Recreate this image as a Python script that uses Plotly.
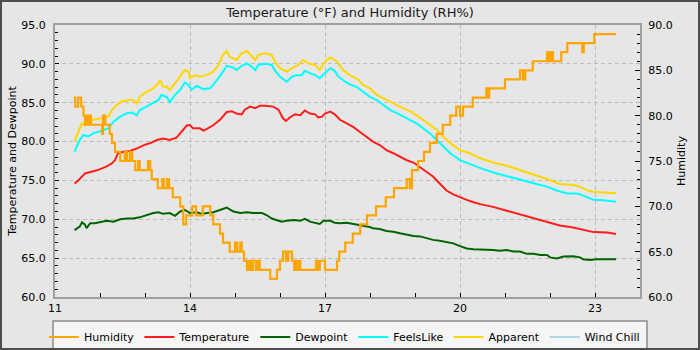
import plotly.graph_objects as go

DAY = "2024-06-01"

# Relative humidity (%), logged as step changes
humidity_times = [
    "11:25", "11:27", "11:31", "11:35", "11:38", "11:40", "11:42", "11:44", "11:46", "11:48",
    "12:03", "12:04", "12:07", "12:13", "12:16", "12:20", "12:27", "12:33", "12:36", "12:40",
    "12:43", "12:47", "12:51", "12:53", "13:04", "13:07", "13:09", "13:17", "13:23", "13:25",
    "13:29", "13:32", "13:37", "13:47", "13:51", "13:55", "14:03", "14:08", "14:17", "14:27",
    "14:31", "14:40", "14:44", "14:53", "15:00", "15:03", "15:07", "15:09", "15:12", "15:16",
    "15:19", "15:21", "15:24", "15:28", "15:31", "15:33", "15:47", "15:56", "16:00", "16:04",
    "16:08", "16:11", "16:16", "16:19", "16:21", "16:23", "16:24", "16:27", "16:48", "16:51",
    "16:53", "17:00", "17:16", "17:19", "17:27", "17:37", "17:47", "17:56", "18:08", "18:21",
    "18:32", "18:49", "18:53", "18:56", "19:04", "19:12", "19:20", "19:29", "19:37", "19:47",
    "19:55", "20:00", "20:04", "20:17", "20:35", "20:37", "20:39", "21:00", "21:20", "21:24",
    "21:27", "21:37", "21:56", "21:59", "22:01", "22:04", "22:15", "22:23", "22:43", "22:45",
    "22:59", "23:28",
]
humidity = [
    82, 81, 82, 81, 80, 79, 80, 79, 80, 79,
    78, 80, 79, 78, 77, 76, 75, 76, 75, 76,
    75, 74, 75, 74, 75, 74, 73, 72, 73, 72,
    73, 72, 71, 70, 68, 69, 70, 69, 70, 69,
    68, 67, 66, 65, 66, 65, 66, 65, 64, 63,
    64, 63, 64, 63, 64, 63, 62, 63, 64, 65,
    64, 65, 64, 63, 64, 63, 64, 63, 64, 63,
    64, 63, 64, 65, 66, 67, 68, 69, 70, 71,
    72, 73, 72, 74, 75, 76, 77, 78, 79, 80,
    81, 80, 81, 82, 83, 82, 83, 84, 85, 84,
    85, 86, 87, 86, 87, 86, 87, 88, 87, 88,
    89, 89,
]

# Air temperature (°F)
temp_times = [
    "11:26", "11:31", "11:40", "11:47", "11:56", "12:09", "12:16", "12:20", "12:24", "12:31",
    "12:40", "12:49", "13:00", "13:07", "13:16", "13:24", "13:33", "13:42", "13:49", "13:56",
    "14:00", "14:04", "14:13", "14:18", "14:22", "14:31", "14:40", "14:49", "14:56", "15:02",
    "15:09", "15:13", "15:20", "15:27", "15:33", "15:40", "15:51", "15:58", "16:04", "16:08",
    "16:13", "16:20", "16:27", "16:33", "16:40", "16:47", "16:51", "16:56", "17:00", "17:07",
    "17:13", "17:20", "17:29", "17:38", "17:47", "17:56", "18:04", "18:13", "18:22", "18:31",
    "18:40", "18:49", "18:58", "19:07", "19:16", "19:24", "19:33", "19:42", "19:51", "20:00",
    "20:09", "20:18", "20:27", "20:44", "21:02", "21:20", "21:38", "21:56", "22:13", "22:31",
    "22:49", "22:58", "23:16", "23:28",
]
temperature = [
    74.6, 75.0, 75.9, 76.05, 76.3, 76.8, 77.2, 77.6, 78.5, 78.7,
    78.8, 79.1, 79.6, 79.8, 80.2, 80.4, 80.2, 80.5, 81.3, 82.1,
    82.1, 81.7, 81.7, 81.4, 81.6, 82.1, 82.8, 83.8, 83.9, 83.6,
    83.5, 84.1, 84.5, 84.3, 84.6, 84.6, 84.5, 84.1, 83.0, 82.65,
    83.1, 83.5, 83.4, 84.0, 83.6, 83.5, 83.1, 83.2, 83.6, 83.85,
    83.5, 82.8, 82.35, 81.85, 81.2, 80.6, 80.0, 79.55, 78.9, 78.5,
    78.0, 77.6, 77.3, 76.7, 76.1, 75.5, 74.6, 73.7, 73.2, 72.8,
    72.5, 72.2, 71.95, 71.6, 71.1, 70.7, 70.1, 69.65, 69.2, 68.95,
    68.6, 68.35, 68.3, 68.1,
]

# Dewpoint (°F)
dew_times = [
    "11:26", "11:33", "11:36", "11:40", "11:42", "11:47", "11:53", "12:02", "12:09", "12:18",
    "12:27", "12:36", "12:44", "12:53", "13:02", "13:11", "13:18", "13:24", "13:33", "13:40",
    "13:47", "13:53", "14:00", "14:09", "14:16", "14:22", "14:31", "14:40", "14:49", "14:58",
    "15:07", "15:16", "15:24", "15:36", "15:42", "15:49", "15:56", "16:02", "16:09", "16:18",
    "16:27", "16:33", "16:40", "16:49", "16:53", "16:58", "17:07", "17:13", "17:20", "17:29",
    "17:38", "17:51", "17:58", "18:04", "18:13", "18:22", "18:31", "18:40", "18:49", "18:58",
    "19:07", "19:16", "19:24", "19:33", "19:42", "19:51", "20:00", "20:09", "20:18", "20:36",
    "20:44", "20:53", "21:02", "21:11", "21:20", "21:29", "21:38", "21:47", "21:56", "22:00",
    "22:09", "22:18", "22:31", "22:40", "22:44", "22:53", "23:02", "23:16", "23:28",
]
dewpoint = [
    68.6, 69.05, 69.6, 69.3, 68.85, 69.5, 69.5, 69.7, 69.8, 69.7,
    70.0, 70.1, 70.1, 70.25, 70.55, 70.8, 70.9, 70.7, 70.8, 70.45,
    71.0, 71.2, 70.8, 70.9, 70.7, 70.8, 70.9, 71.2, 71.5, 71.0,
    70.8, 70.9, 70.8, 70.8, 70.55, 70.1, 69.9, 69.7, 69.8, 69.9,
    69.8, 70.05, 69.7, 69.5, 69.4, 69.8, 69.8, 69.55, 69.5, 69.55,
    69.4, 69.25, 69.05, 68.85, 68.75, 68.5, 68.4, 68.2, 68.0, 67.85,
    67.8, 67.55, 67.35, 67.25, 67.05, 66.9, 66.55, 66.25, 66.15, 66.1,
    66.05, 65.95, 66.05, 65.85, 65.85, 65.55, 65.55, 65.4, 65.4, 65.1,
    64.95, 65.2, 65.25, 65.1, 64.85, 64.75, 64.85, 64.85, 64.85,
]

# Feels-like temperature (°F)
feels_times = [
    "11:26", "11:29", "11:33", "11:38", "11:44", "11:51", "12:00", "12:11", "12:18", "12:27",
    "12:36", "12:42", "12:49", "12:53", "13:02", "13:09", "13:18", "13:22", "13:29", "13:33",
    "13:40", "13:47", "13:53", "13:58", "14:02", "14:09", "14:18", "14:27", "14:36", "14:44",
    "14:49", "14:58", "15:02", "15:09", "15:16", "15:22", "15:27", "15:31", "15:40", "15:49",
    "15:53", "16:00", "16:09", "16:16", "16:22", "16:29", "16:33", "16:40", "16:47", "16:53",
    "17:00", "17:07", "17:13", "17:18", "17:27", "17:33", "17:42", "17:51", "18:00", "18:09",
    "18:18", "18:27", "18:36", "18:44", "18:53", "19:02", "19:11", "19:20", "19:29", "19:38",
    "19:47", "20:00", "20:13", "20:31", "20:49", "21:02", "21:20", "21:29", "21:42", "21:56",
    "22:09", "22:22", "22:38", "22:49", "22:58", "23:11", "23:28",
]
feels_like = [
    78.7, 79.35, 80.2, 80.85, 80.65, 81.05, 81.35, 81.7, 82.55, 83.2,
    83.65, 83.75, 83.4, 84.05, 84.5, 84.85, 85.35, 86.0, 85.75, 85.05,
    86.0, 86.65, 87.6, 87.3, 86.65, 87.15, 86.75, 86.85, 87.9, 89.0,
    89.75, 89.5, 89.2, 89.75, 90.05, 89.65, 89.2, 89.85, 90.0, 89.85,
    89.2, 88.35, 87.7, 88.35, 88.55, 88.55, 89.1, 88.8, 88.55, 88.15,
    88.8, 89.45, 89.1, 88.35, 87.7, 87.35, 87.05, 86.4, 85.75, 85.35,
    84.7, 84.05, 83.65, 83.2, 82.8, 82.35, 81.7, 81.05, 80.2, 79.35,
    78.5, 77.6, 77.1, 76.45, 75.9, 75.55, 75.15, 74.85, 74.55, 74.2,
    73.7, 73.35, 73.3, 72.85, 72.5, 72.45, 72.25,
]

# Apparent temperature (°F)
apparent_times = [
    "11:26", "11:29", "11:33", "11:36", "11:40", "11:44", "11:51", "12:02", "12:11", "12:16",
    "12:22", "12:29", "12:38", "12:44", "12:49", "12:53", "13:02", "13:11", "13:18", "13:20",
    "13:24", "13:29", "13:33", "13:40", "13:47", "13:53", "13:58", "14:00", "14:07", "14:13",
    "14:22", "14:31", "14:38", "14:44", "14:49", "14:53", "15:02", "15:09", "15:16", "15:24",
    "15:27", "15:31", "15:40", "15:49", "15:53", "16:00", "16:09", "16:16", "16:24", "16:31",
    "16:38", "16:47", "16:53", "17:00", "17:07", "17:16", "17:24", "17:33", "17:42", "17:51",
    "18:00", "18:09", "18:18", "18:27", "18:36", "18:44", "18:53", "19:02", "19:11", "19:20",
    "19:29", "19:38", "19:47", "20:00", "20:13", "20:27", "20:44", "21:02", "21:20", "21:33",
    "21:47", "22:00", "22:13", "22:31", "22:40", "22:49", "22:58", "23:11", "23:28",
]
apparent = [
    80.0, 80.85, 81.7, 82.35, 82.1, 82.55, 82.8, 83.0, 83.2, 84.05,
    84.7, 85.15, 85.35, 85.35, 84.9, 85.75, 86.4, 86.85, 87.5, 87.9,
    87.05, 87.05, 86.65, 87.5, 88.35, 89.2, 89.0, 88.15, 88.55, 88.35,
    88.55, 89.0, 89.85, 91.15, 91.65, 90.9, 90.5, 91.35, 91.65, 90.9,
    90.5, 91.15, 91.35, 91.15, 90.3, 89.45, 89.0, 89.45, 89.85, 90.5,
    90.05, 89.85, 89.2, 90.3, 90.85, 90.3, 89.2, 88.55, 88.15, 87.3,
    86.85, 86.0, 85.55, 85.15, 84.7, 84.3, 83.95, 83.4, 82.8, 82.15,
    81.5, 80.6, 79.8, 78.9, 78.5, 77.85, 77.3, 76.9, 76.35, 75.9,
    75.5, 75.05, 74.55, 74.4, 74.2, 73.75, 73.55, 73.45, 73.35,
]

# Wind chill (°F): not reported at these temperatures
wind_chill_times = ["11:26", "23:28"]
wind_chill = [None, None]

# Axis scales
x_start, x_end = "11:00", "23:59:59"
temp_range = [60, 95]
hum_range = [60, 90]
hour_ticks = ["11:00", "14:00", "17:00", "20:00", "23:00"]
hour_labels = ["11", "14", "17", "20", "23"]


def stamp(t):
    return f"{DAY} {t}"


def stamps(ts):
    return [stamp(t) for t in ts]


FONT = "DejaVu Sans"

fig = go.Figure()

fig.add_trace(go.Scatter(
    x=stamps(humidity_times), y=humidity, name="Humidity", yaxis="y2",
    mode="lines", line=dict(color="#ffa500", width=2.2, shape="hv"),
))
fig.add_trace(go.Scatter(
    x=stamps(temp_times), y=temperature, name="Temperature",
    mode="lines", line=dict(color="#ff1c1c", width=2),
))
fig.add_trace(go.Scatter(
    x=stamps(dew_times), y=dewpoint, name="Dewpoint",
    mode="lines", line=dict(color="#006400", width=2),
))
fig.add_trace(go.Scatter(
    x=stamps(feels_times), y=feels_like, name="FeelsLike",
    mode="lines", line=dict(color="#00ffff", width=2),
))
fig.add_trace(go.Scatter(
    x=stamps(apparent_times), y=apparent, name="Apparent",
    mode="lines", line=dict(color="#ffd700", width=2),
))
fig.add_trace(go.Scatter(
    x=stamps(wind_chill_times), y=wind_chill, name="Wind Chill",
    mode="lines", line=dict(color="#add8e6", width=2), showlegend=True,
))

# plot area in pixels: x 55..640, y 25..297
L, R, T, B = 55, 640, 25, 297
W, H = 700, 350


def px(x):
    return (x - L) / (R - L)


def py(y):
    return (B - y) / (B - T)


axis_line = "#a0a0a0"
grid = "#bcbcbc"

fig.update_layout(
    width=W, height=H,
    margin=dict(l=L, r=W - R, t=T, b=H - B, autoexpand=False),
    paper_bgcolor="#e6e6e6",
    plot_bgcolor="#e6e6e6",
    font=dict(family=FONT, size=11, color="#000000"),
    title=dict(
        text="Temperature (°F) and Humidity (RH%)",
        x=0.5, xanchor="center", y=1 - 12 / H, yanchor="middle",
        font=dict(size=13, color="#1a1a1a"),
    ),
    xaxis=dict(
        type="date",
        range=[stamp(x_start), stamp(x_end)],
        tickmode="array", tickvals=stamps(hour_ticks), ticktext=hour_labels,
        ticks="inside", ticklen=4, tickcolor="#000000",
        minor=dict(dtick=3600000, tick0=stamp(x_start), ticks="inside", ticklen=4,
                   tickcolor="#000000", showgrid=False),
        showgrid=True, gridcolor=grid, griddash="4px,3px", gridwidth=1,
        showline=True, linecolor=axis_line, linewidth=2, mirror=True,
        zeroline=False, tickfont=dict(size=11),
    ),
    yaxis=dict(
        range=temp_range, dtick=5, tick0=60, tickformat=".1f",
        ticks="inside", ticklen=4, tickcolor="#000000",
        minor=dict(dtick=1, ticks="inside", ticklen=3, tickcolor="#000000", showgrid=False),
        showgrid=True, gridcolor=grid, griddash="4px,3px", gridwidth=1,
        showline=True, linecolor=axis_line, linewidth=2, mirror=True,
        zeroline=False, tickfont=dict(size=11), ticklabelstandoff=5,
        title=dict(text="Temperature and Dewpoint", font=dict(size=11), standoff=2),
    ),
    yaxis2=dict(
        range=hum_range, dtick=5, tick0=60, tickformat=".1f",
        overlaying="y", side="right",
        ticks="inside", ticklen=5, tickcolor="#000000",
        minor=dict(dtick=1, ticks="inside", ticklen=3, tickcolor="#000000", showgrid=False),
        showgrid=False, showline=True, linecolor=axis_line, linewidth=2,
        zeroline=False, tickfont=dict(size=11), ticklabelstandoff=4,
        title=dict(text="Humidity", font=dict(size=11), standoff=6),
    ),
    legend=dict(
        orientation="h", x=px(44), xanchor="left", y=py(337), yanchor="middle",
        bgcolor="rgba(0,0,0,0)", borderwidth=0, font=dict(size=11),
        itemwidth=30, traceorder="normal",
    ),
    showlegend=True,
)

# legend panel and outer frame
fig.add_shape(type="rect", xref="paper", yref="paper",
              x0=px(53), x1=px(647), y0=py(321), y1=py(355),
              fillcolor="#f5f5f5", line=dict(color="#8c8c8c", width=1.5), layer="below")
fig.add_shape(type="rect", xref="paper", yref="paper",
              x0=px(0), x1=px(W), y0=py(0), y1=py(H),
              fillcolor="rgba(0,0,0,0)", line=dict(color="#4d4d4d", width=4), layer="above")

fig.write_html("out.html")
